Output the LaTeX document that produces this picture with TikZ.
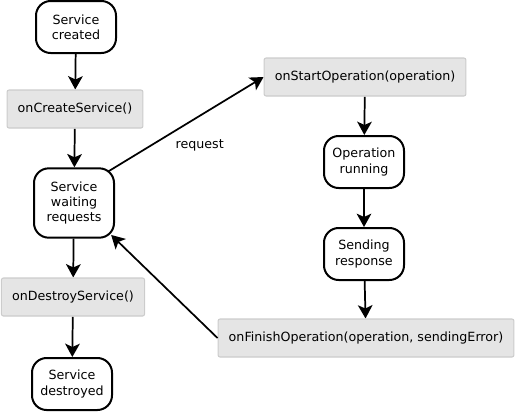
\documentclass[tikz,border=0pt]{standalone}
\usepackage{fontspec}
\setmainfont{DejaVu Sans}
\usepackage{xcolor}
\usetikzlibrary{arrows.meta, positioning, backgrounds}
\definecolor{callfill}{RGB}{229,229,229}
\definecolor{calldraw}{RGB}{204,204,204}

\begin{document}
\begin{tikzpicture}[
    x=0.75pt, y=-0.75pt,
    every node/.style={font=\fontsize{9.5}{11.3}\selectfont},
    state/.style={rectangle, draw, line width=1.5pt, rounded corners=11pt, fill=white, minimum width=60pt, minimum height=39pt, align=center, inner sep=3pt},
    call/.style={rectangle, draw=calldraw, line width=0.8pt, rounded corners=1.5pt, fill=callfill, minimum height=28.5pt, inner xsep=8pt, align=center},
    arrow/.style={-{Stealth[length=10pt, width=11pt, inset=2.5pt]}, line width=1.3pt}
]
\useasboundingbox (0,0) rectangle (517,412);

% Service life cycle
\node[state] (created) at (76, 27) {Service\\created};
\node[call] (oncreate) at (75, 109) {onCreateService()};
\node[state, minimum height=52pt] (waiting) at (74, 203) {Service\\waiting\\requests};
\node[call] (ondestroy) at (73, 297) {onDestroyService()};
\node[state] (destroyed) at (72, 384) {Service\\destroyed};

% Operation path
\node[call] (onstart) at (365, 77) {onStartOperation(operation)};
\node[state] (running) at (364, 162) {Operation\\running};
\node[state] (sending) at (364, 254) {Sending\\response};
\node[call] (onfinish) at (366, 338) {onFinishOperation(operation, sendingError)};

\begin{scope}[on background layer]
\draw[arrow] (created) -- (oncreate);
\draw[arrow] (oncreate) -- (waiting);
\draw[arrow] (waiting) -- (ondestroy);
\draw[arrow] (ondestroy) -- (destroyed);
\draw[arrow, shorten <=-6pt] (waiting.north east) -- node[pos=0.57, below=14pt] (request) {request} (onstart.west);
\draw[arrow] (onstart) -- (running);
\draw[arrow] (running) -- (sending);
\draw[arrow] (sending) -- (onfinish);
\end{scope}
\draw[arrow, shorten >=-4pt] (onfinish.west) -- (waiting.south east);

\end{tikzpicture}
\end{document}
